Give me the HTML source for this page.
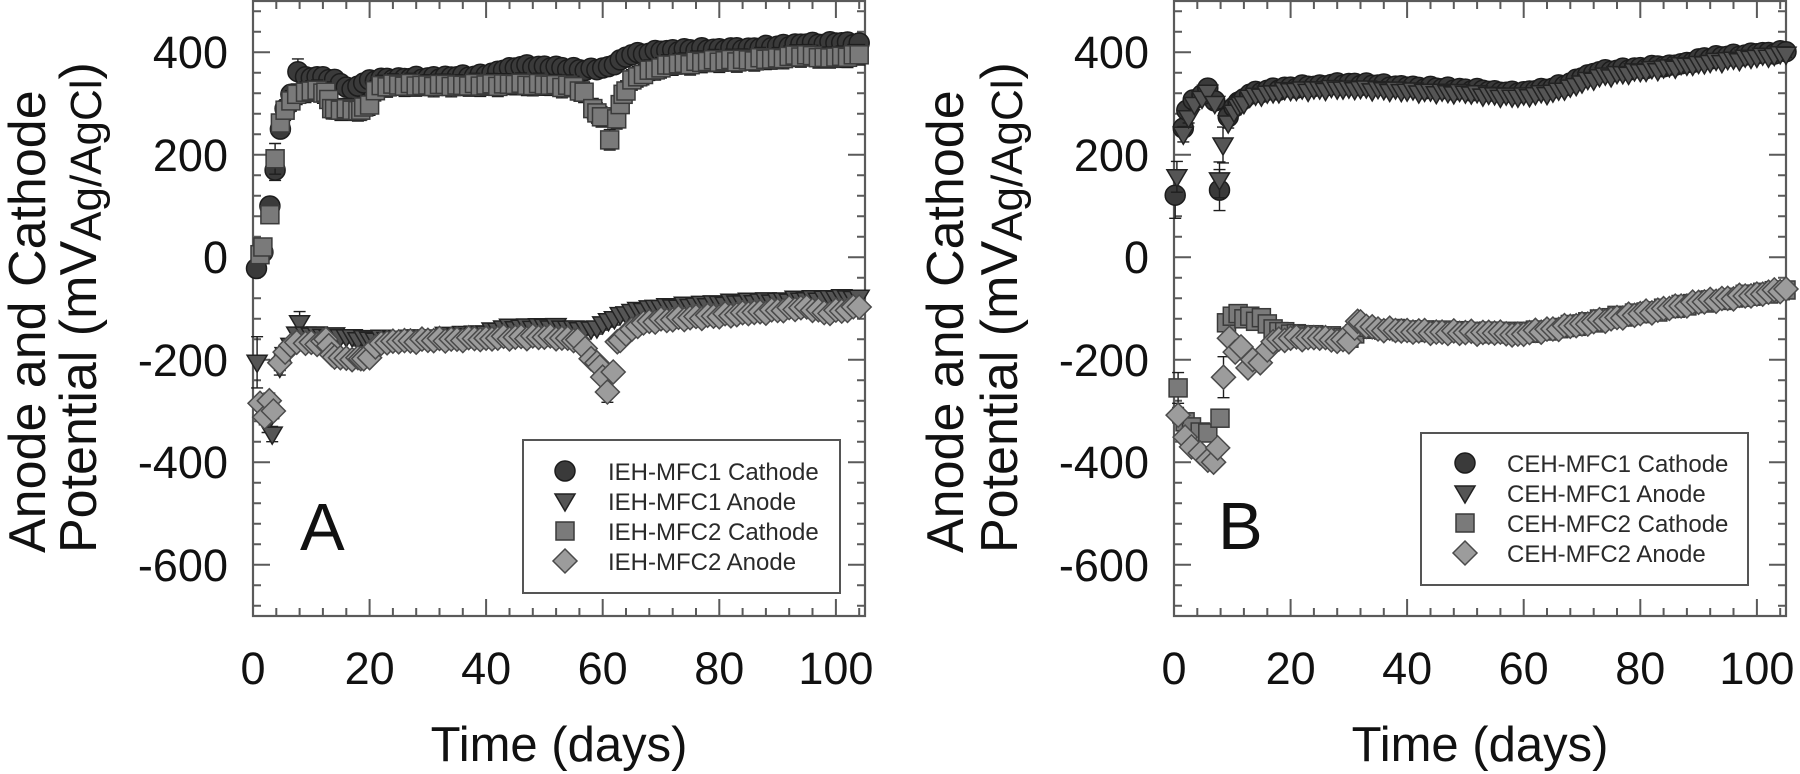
<!DOCTYPE html>
<html><head><meta charset="utf-8">
<style>
html,body{margin:0;padding:0;background:#fff;}
svg{display:block;}
text{font-family:"Liberation Sans",Arial,sans-serif;}
</style></head>
<body>
<svg id="s" width="1800" height="774" viewBox="0 0 1800 774" xmlns="http://www.w3.org/2000/svg">
<rect width="1800" height="774" fill="#fff"/>
<g id="axA"></g>
<g id="axB"></g>
<g id="dataA"></g>
<g id="dataB"></g>

<!-- Y tick labels A -->
<g font-size="45" fill="#111" text-anchor="end">
<text x="228" y="68">400</text>
<text x="228" y="171">200</text>
<text x="228" y="273">0</text>
<text x="228" y="376">-200</text>
<text x="228" y="478">-400</text>
<text x="228" y="581">-600</text>
</g>
<!-- Y tick labels B -->
<g font-size="45" fill="#111" text-anchor="end">
<text x="1149" y="68">400</text>
<text x="1149" y="171">200</text>
<text x="1149" y="273">0</text>
<text x="1149" y="376">-200</text>
<text x="1149" y="478">-400</text>
<text x="1149" y="581">-600</text>
</g>
<!-- X tick labels A -->
<g font-size="45" fill="#111" text-anchor="middle">
<text x="253" y="684">0</text>
<text x="369.6" y="684">20</text>
<text x="486.1" y="684">40</text>
<text x="602.7" y="684">60</text>
<text x="719.3" y="684">80</text>
<text x="835.9" y="684">100</text>
</g>
<!-- X tick labels B -->
<g font-size="45" fill="#111" text-anchor="middle">
<text x="1174" y="684">0</text>
<text x="1290.6" y="684">20</text>
<text x="1407.1" y="684">40</text>
<text x="1523.7" y="684">60</text>
<text x="1640.3" y="684">80</text>
<text x="1756.9" y="684">100</text>
</g>
<!-- X titles -->
<g font-size="49" fill="#111" text-anchor="middle">
<text x="559" y="761">Time (days)</text>
<text x="1480" y="761">Time (days)</text>
</g>
<!-- Y titles -->
<g font-size="52" fill="#111">
<text transform="translate(45,553) rotate(-90)">Anode and Cathode</text>
<text transform="translate(96,553) rotate(-90)">Potential (mV<tspan font-size="44" dy="5">Ag/AgCl</tspan><tspan dy="-5">)</tspan></text>
<text transform="translate(963,553) rotate(-90)">Anode and Cathode</text>
<text transform="translate(1017,553) rotate(-90)">Potential (mV<tspan font-size="44" dy="5">Ag/AgCl</tspan><tspan dy="-5">)</tspan></text>
</g>
<!-- Panel letters -->
<g font-size="67" fill="#111">
<text x="300" y="550">A</text>
<text x="1218" y="549">B</text>
</g>
<!-- Legend A -->
<rect x="523" y="440" width="317" height="153" fill="#fff" stroke="#555" stroke-width="2"/>
<g font-size="24" fill="#2a2a2a">
<text x="608" y="480">IEH-MFC1 Cathode</text>
<text x="608" y="510">IEH-MFC1 Anode</text>
<text x="608" y="540">IEH-MFC2 Cathode</text>
<text x="608" y="570">IEH-MFC2 Anode</text>
</g>
<!-- Legend B -->
<rect x="1421" y="433" width="327" height="152" fill="#fff" stroke="#555" stroke-width="2"/>
<g font-size="24" fill="#2a2a2a">
<text x="1507" y="472">CEH-MFC1 Cathode</text>
<text x="1507" y="502">CEH-MFC1 Anode</text>
<text x="1507" y="532">CEH-MFC2 Cathode</text>
<text x="1507" y="562">CEH-MFC2 Anode</text>
</g>
<g id="legM"></g>
</svg>
<script>
(function(){
var PX=612/105;
function Y(v){return 1+(500-v)*0.5125;}
function axes(id,x0){
  var s='',L=x0,R=x0+612,T=1,B=616;
  s+='<rect x="'+L+'" y="'+T+'" width="612" height="615" fill="none" stroke="#5a5a5a" stroke-width="2.2"/>';
  var p='';
  for(var t=4;t<=104;t+=4){
    var x=(L+t*PX).toFixed(1);var len=(t%20===0)?17:8;
    p+='M'+x+' '+B+'V'+(B-len)+'M'+x+' '+T+'V'+(T+len);
  }
  for(var v=-680;v<=480;v+=40){
    var y=Y(v).toFixed(1);var len2=(v%200===0)?17:8;
    p+='M'+L+' '+y+'H'+(L+len2)+'M'+R+' '+y+'H'+(R-len2);
  }
  s+='<path d="'+p+'" stroke="#5a5a5a" stroke-width="2" fill="none"/>';
  document.getElementById(id).innerHTML=s;
}
axes('axA',253);axes('axB',1174);

function interp(keys,t){
  for(var i=0;i<keys.length-1;i++){
    if(t>=keys[i][0]&&t<=keys[i+1][0]){var f=(t-keys[i][0])/(keys[i+1][0]-keys[i][0]);return keys[i][1]+f*(keys[i+1][1]-keys[i][1]);}
  }
  return keys[keys.length-1][1];
}
function build(keys,t0,t1,seed){
  var pts=keys.map(function(k){return {t:k[0],v:k[1],e:k[2]};});
  for(var t=t0;t<=t1;t++){
    var near=false;
    for(var j=0;j<keys.length;j++){if(Math.abs(keys[j][0]-t)<0.5){near=true;break;}}
    if(near)continue;
    pts.push({t:t,v:interp(keys,t)+3*Math.sin(t*2.3+seed)});
  }
  pts.sort(function(a,b){return a.t-b.t;});
  return pts;
}
var STY={
  c:{f:'#3a3a3a',s:'#1c1c1c'},
  t:{f:'#555555',s:'#222222'},
  q:{f:'#7a7a7a',s:'#3a3a3a'},
  d:{f:'#9c9c9c',s:'#4a4a4a'}
};
function marker(type,x,y){
  var st=STY[type];
  var a=' fill="'+st.f+'" stroke="'+st.s+'" stroke-width="1.5"';
  x=+x.toFixed(1);y=+y.toFixed(1);
  if(type==='c')return '<circle cx="'+x+'" cy="'+y+'" r="10"'+a+'/>';
  if(type==='t')return '<path d="M'+(x-10)+' '+(y-7)+'L'+(x+10)+' '+(y-7)+'L'+x+' '+(y+10)+'Z"'+a+'/>';
  if(type==='q')return '<rect x="'+(x-9)+'" y="'+(y-9)+'" width="18" height="18"'+a+'/>';
  return '<path d="M'+x+' '+(y-12)+'L'+(x+12)+' '+y+'L'+x+' '+(y+12)+'L'+(x-12)+' '+y+'Z"'+a+'/>';
}
function series(x0,type,pts,defE){
  var eb='',mk='';
  pts.forEach(function(p){
    var x=x0+p.t*PX,y=Y(p.v),e=(p.e!==undefined?p.e:defE)*0.5125;
    var y1=(y-e).toFixed(1),y2=(y+e).toFixed(1),xs=x.toFixed(1);
    eb+='M'+xs+' '+y1+'V'+y2+'M'+(x-6).toFixed(1)+' '+y1+'H'+(x+6).toFixed(1)+'M'+(x-6).toFixed(1)+' '+y2+'H'+(x+6).toFixed(1);
    mk+=marker(type,x,y);
  });
  return '<path d="'+eb+'" stroke="#1e1e1e" stroke-width="1.4" fill="none"/>'+mk;
}

var cA=[[0.6,-22,15],[1.7,10,12],[2.9,100,15],[3.8,170,20],[4.7,250,15],[5.5,290],[6.5,318],[7.7,362,25],[9,352],[10,350],[12,352],[14,347],[16,332],[17,328],[18,334],[20,346],[25,350],[30,350],[35,352],[40,355],[43,365],[46,372],[50,373],[53,370],[56,366],[59,366],[61,372],[63,385],[65,395],[70,402],[75,405],[80,407],[85,408],[90,412],[95,416],[100,418],[104,418]];
var tA=[[0.7,-205,50],[1.6,-300,20],[2.5,-322,20],[3.3,-345,15],[4.6,-215,15],[5.5,-190],[6.5,-172],[7.5,-150],[8,-128,22],[9,-150],[10,-152],[15,-155],[20,-160],[25,-158],[30,-156],[35,-152],[40,-148],[43,-138],[50,-135],[55,-138],[58,-140],[60,-130],[63,-112],[66,-102],[70,-98],[80,-90],[90,-84],[100,-80],[104,-78]];
var sA=[[1.2,5,12],[1.7,20,15],[2.9,83,15],[3.8,192,30],[4.7,262,15],[5.5,287],[6.5,305],[7.5,318],[9,322],[11,326],[12.5,322],[13.5,290],[15,287],[17,287],[18.5,287],[20,297],[21,325],[22,335],[25,336],[30,336],[35,336],[40,336],[45,337],[50,336],[55,333],[56.8,322],[58.3,290],[59.8,274],[61.2,229],[62.4,270],[63.5,318],[65,346],[68,365],[72,375],[78,382],[85,385],[90,389],[95,395],[98,390],[101,392],[104,395]];
var dA=[[1.2,-285,12],[2,-312,15],[2.8,-280,15],[3.5,-300,15],[4.6,-206,15],[5.5,-185],[6.5,-172],[7.5,-166],[9,-168],[11,-170],[12.5,-160],[13.5,-190],[15,-196],[17,-200],[18.5,-198],[20,-196],[21,-175],[22,-168],[25,-165],[30,-162],[35,-160],[40,-158],[45,-156],[50,-156],[54,-158],[55.7,-161],[57,-178],[58,-198],[59.5,-214],[60.8,-263,20],[61.8,-224],[62.5,-165],[64,-150],[66,-135],[68,-125],[75,-118],[85,-110],[90,-104],[95,-97],[98,-108],[101,-105],[104,-97]];

var cB=[[0.2,121,45],[1.6,252,15],[2.2,287,10],[3.3,307,10],[4.8,317,10],[5.8,330,10],[7,305,10],[7.8,131,40],[9.3,274,15],[10.3,293],[11.5,305],[13,318],[16,326],[20,332],[25,336],[30,339],[35,336],[40,332],[45,330],[50,328],[55,325],[59,320],[62,325],[65,330],[68,340],[70,350],[73,362],[76,365],[80,370],[85,375],[88,380],[91,389],[95,392],[100,397],[105,401]];
var tB=[[0.5,157,30],[1.6,240,15],[2.5,272,10],[3.5,298,10],[4.8,310,10],[5.8,322,10],[7,300,10],[7.8,151,35],[8.4,219,35],[9.3,262,10],[10.3,283],[11.5,298],[13,312],[16,320],[20,325],[30,330],[40,324],[50,320],[59,312],[62,317],[65,322],[68,332],[70,340],[73,352],[80,362],[90,378],[100,390],[105,396]];
var sB=[[0.7,-255,30],[1.9,-321,10],[3,-331,10],[4.5,-341,10],[5.8,-343,10],[7.9,-314,15],[9,-128,15],[10,-115],[11,-110],[12,-120],[13,-115],[14,-125],[15,-118],[16,-130],[18,-145],[20,-150],[25,-155],[30,-158],[32,-135],[35,-140],[40,-143],[45,-145],[50,-146],[55,-147],[59,-148],[65,-140],[70,-130],[75,-118],[80,-110],[85,-100],[90,-88],[95,-80],[100,-72],[105,-64]];
var dB=[[0.7,-308,15],[1.9,-351,10],[3,-370,10],[4.5,-382,10],[5.8,-396,10],[6.8,-400,10],[7.5,-372,10],[8.5,-234,40],[9.5,-158,10],[10.5,-185],[11.5,-175],[12.7,-216],[13.5,-200],[14.8,-206],[16,-181],[17,-165],[20,-158],[25,-158],[30,-165],[31.5,-125],[33,-135],[35,-140],[40,-143],[45,-146],[50,-147],[55,-148],[59,-150],[65,-140],[70,-130],[75,-120],[80,-110],[85,-100],[90,-88],[95,-80],[100,-72],[105,-62]];

var a='';
a+=series(253,'c',build(cA,9,104,0.3),14);
a+=series(253,'t',build(tA,9,104,1.1),12);
a+=series(253,'q',build(sA,9,104,2.2),20);
a+=series(253,'d',build(dA,9,104,3.7),10);
document.getElementById('dataA').innerHTML=a;

var b='';
b+=series(1174,'c',build(cB,11,105,0.7),6);
b+=series(1174,'t',build(tB,11,105,1.9),6);
b+=series(1174,'q',build(sB,17,105,2.6),6);
b+=series(1174,'d',build(dB,17,105,4.1),6);
document.getElementById('dataB').innerHTML=b;

var l='';
l+=marker('c',565,471)+marker('t',565,501)+marker('q',565,531)+marker('d',565,561);
l+=marker('c',1465,463)+marker('t',1465,493)+marker('q',1465,523)+marker('d',1465,553);
document.getElementById('legM').innerHTML=l;
})();
</script>
</body></html>
